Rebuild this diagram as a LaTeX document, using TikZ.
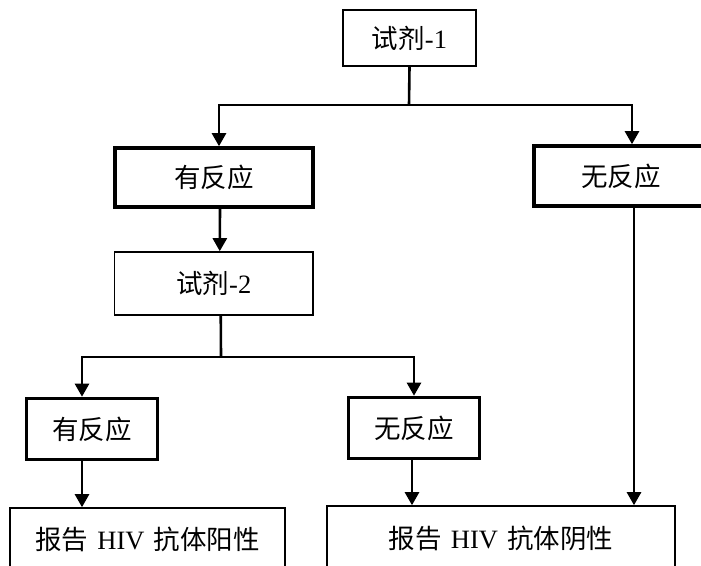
\documentclass[tikz,border=0pt]{standalone}
\usepackage{fontspec}
\setmainfont{Liberation Serif}
\newfontfamily\cjk{Noto Sans CJK SC}
\newcommand{\gapsp}{\hspace{0.35em}}
\usetikzlibrary{arrows.meta}
\begin{document}
\begin{tikzpicture}[x=1pt,y=-1pt,
  thinbox/.style={draw, line width=1.6pt, inner sep=0pt, font=\fontsize{26.5}{30}\selectfont},
  thickbox/.style={draw, line width=3.6pt, inner sep=0pt, font=\fontsize{26.5}{30}\selectfont},
  link/.style={line width=2.6pt},
  arr/.style={line width=2.6pt, -{Triangle[length=13pt,width=14pt]}}
]
\useasboundingbox (0,0) rectangle (701,565);
\clip (0,0) rectangle (701,565);
\node[thinbox, minimum width=133pt, minimum height=56pt] (n1) at (409.5,38) {{\cjk 试剂}-1};
\node[thickbox, minimum width=198pt, minimum height=59pt] (n2) at (214,177.5) {\cjk 有反应};
\node[thickbox, minimum width=174pt, minimum height=60pt] (n3) at (621,176) {\cjk 无反应};
\node[thinbox, minimum width=198.5pt, minimum height=63pt] (n4) at (213.75,283.5) {{\cjk 试剂}-2};
\node[thickbox, minimum width=131pt, minimum height=61pt] (n5) at (92,429) {\cjk 有反应};
\node[thickbox, minimum width=131pt, minimum height=61pt] (n6) at (414,428) {\cjk 无反应};
\node[thinbox, minimum width=275pt, minimum height=62pt] (n7) at (147.5,539) {{\cjk 报告}\gapsp HIV\gapsp{\cjk 抗体阳性}};
\node[thinbox, minimum width=348pt, minimum height=64pt] (n8) at (501,538) {{\cjk 报告}\gapsp HIV\gapsp{\cjk 抗体阴性}};
% first split
\coordinate (j1) at (409,105);
\draw[link] (n1.south) -- (j1);
\draw[arr] (j1) -| ([xshift=5pt]n2.north);
\draw[arr] (j1) -| ([xshift=11pt]n3.north);
% second stage
\draw[arr] ([xshift=6pt]n2.south) -- ([xshift=6pt]n4.north);
\coordinate (j2) at (221,357);
\draw[link] ([xshift=7pt]n4.south) -- (j2);
\draw[arr] (j2) -| ([xshift=-10pt]n5.north);
\draw[arr] (j2) -| (n6.north);
% results
\draw[arr] ([xshift=-10pt]n5.south) -- ([xshift=-10pt]n5.south |- n7.north);
\draw[arr] ([xshift=-2pt]n6.south) -- ([xshift=-2pt]n6.south |- n8.north);
\draw[arr] ([xshift=13pt]n3.south) -- ([xshift=13pt]n3.south |- n8.north);
\end{tikzpicture}
\end{document}
